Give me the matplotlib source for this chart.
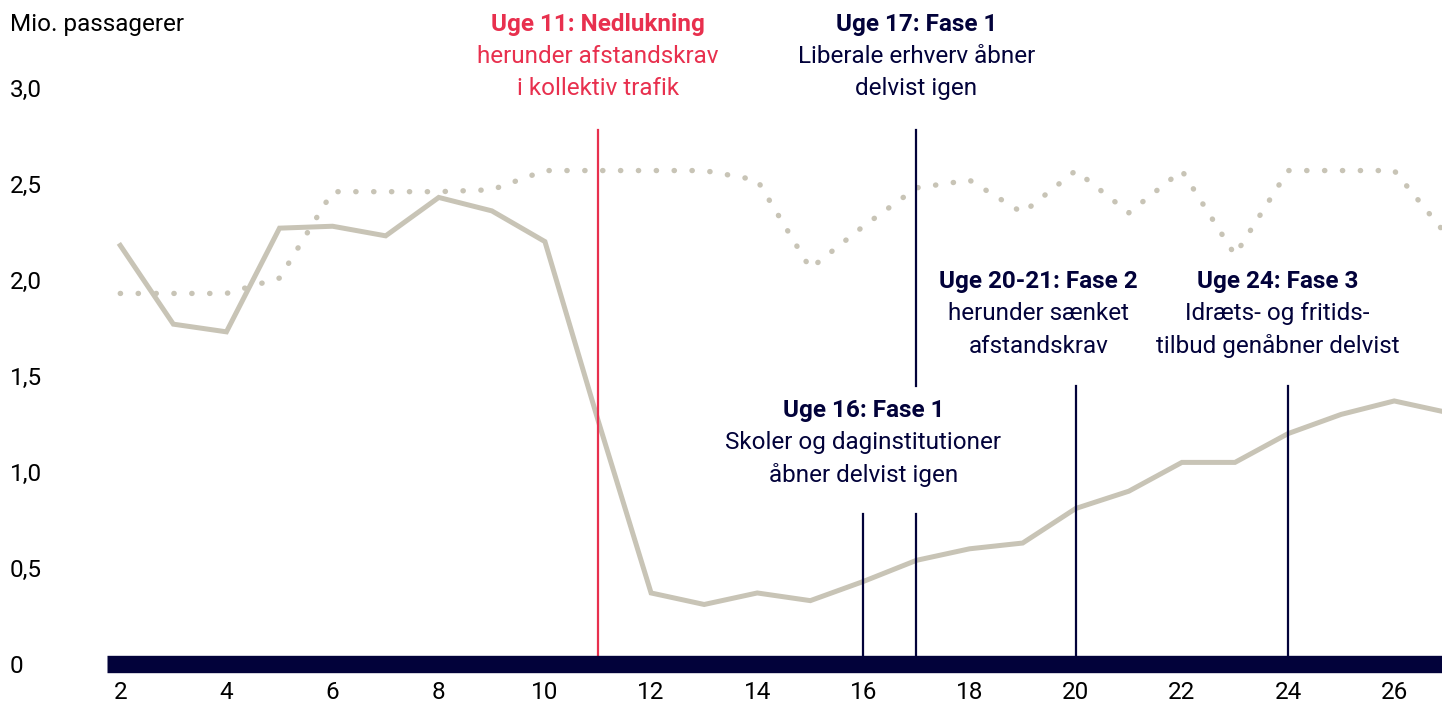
import numpy as np
import matplotlib.pyplot as plt
from matplotlib import transforms

plt.rcParams['font.family'] = ['Roboto', 'DejaVu Sans']

# uger og passagertal (mio.)
uger = list(range(2, 28))
passagerer_2020 = [2.18, 1.77, 1.73, 2.27, 2.28, 2.23, 2.43, 2.36, 2.20, 1.27,
                   0.37, 0.31, 0.37, 0.33, 0.43, 0.54, 0.60, 0.63, 0.81, 0.90,
                   1.05, 1.05, 1.20, 1.30, 1.37, 1.31]
passagerer_2019 = [1.93, 1.93, 1.93, 2.01, 2.46, 2.46, 2.46, 2.47, 2.57, 2.57,
                   2.57, 2.57, 2.52, 2.06, 2.28, 2.48, 2.52, 2.35, 2.57, 2.35,
                   2.57, 2.13, 2.57, 2.57, 2.57, 2.23]
yticks = [0, 0.5, 1.0, 1.5, 2.0, 2.5, 3.0]
ytick_labels = ['0', '0,5', '1,0', '1,5', '2,0', '2,5', '3,0']
xticks = list(range(2, 28, 2))

red = '#E8304E'
navy = '#02023A'
grey = '#C8C4B6'

fig = plt.figure(figsize=(14.42, 7.09), dpi=100)
ax = fig.add_axes([107 / 1442, 45 / 709, 1 - 107 / 1442, 576 / 709])
ax.set_xlim(1.75, 26.9)
ax.set_ylim(0, 3)
for s in ax.spines.values():
    s.set_visible(False)

ax.plot(uger, passagerer_2019, color=grey, lw=3.9, linestyle=(0, (0.05, 3.25)),
        dash_capstyle='round')
ax.plot(uger, passagerer_2020, color=grey, lw=3.6, solid_joinstyle='miter')

# lodrette markeringer
ax.plot([11, 11], [0, 2.78], color=red, lw=1.6)
ax.plot([17, 17], [1.45, 2.78], color=navy, lw=1.6)
ax.plot([17, 17], [0, 0.78], color=navy, lw=1.6)
ax.plot([16, 16], [0, 0.78], color=navy, lw=1.6)
ax.plot([20, 20], [0, 1.45], color=navy, lw=1.6)
ax.plot([24, 24], [0, 1.45], color=navy, lw=1.6)

ax.axhline(0, color=navy, lw=12.5, solid_capstyle='butt', clip_on=False)

fs = 17.5
ax.set_yticks(yticks)
ax.set_yticklabels(ytick_labels, fontsize=fs, ha='left')
ax.tick_params(axis='y', length=0, pad=97 * 0.72)
ax.set_xticks(xticks)
ax.set_xticklabels([str(x) for x in xticks], fontsize=fs)
ax.tick_params(axis='x', length=0, pad=12)

def blok(x, y, titel, linjer, farve):
    ax.text(x, y, titel, fontsize=fs, fontweight='bold', color=farve,
            ha='center', va='center', clip_on=False)
    for i, l in enumerate(linjer):
        ax.text(x, y - 0.167 * (i + 1), l, fontsize=fs, color=farve,
                ha='center', va='center', clip_on=False)

blok(11, 3.33, 'Uge 11: Nedlukning', ['herunder afstandskrav', 'i kollektiv trafik'], red)
blok(17, 3.33, 'Uge 17: Fase 1', ['Liberale erhverv åbner', 'delvist igen'], navy)
blok(19.3, 1.99, 'Uge 20-21: Fase 2', ['herunder sænket', 'afstandskrav'], navy)
blok(23.8, 1.99, 'Uge 24: Fase 3', ['Idræts- og fritids-', 'tilbud genåbner delvist'], navy)
blok(16, 1.32, 'Uge 16: Fase 1', ['Skoler og daginstitutioner', 'åbner delvist igen'], navy)

trans = transforms.blended_transform_factory(fig.transFigure, ax.transData)
ax.text(10 / 1442, 3.33, 'Mio. passagerer', fontsize=fs, color='black',
        ha='left', va='center', transform=trans, clip_on=False)

fig.savefig('out.png', dpi=100)
